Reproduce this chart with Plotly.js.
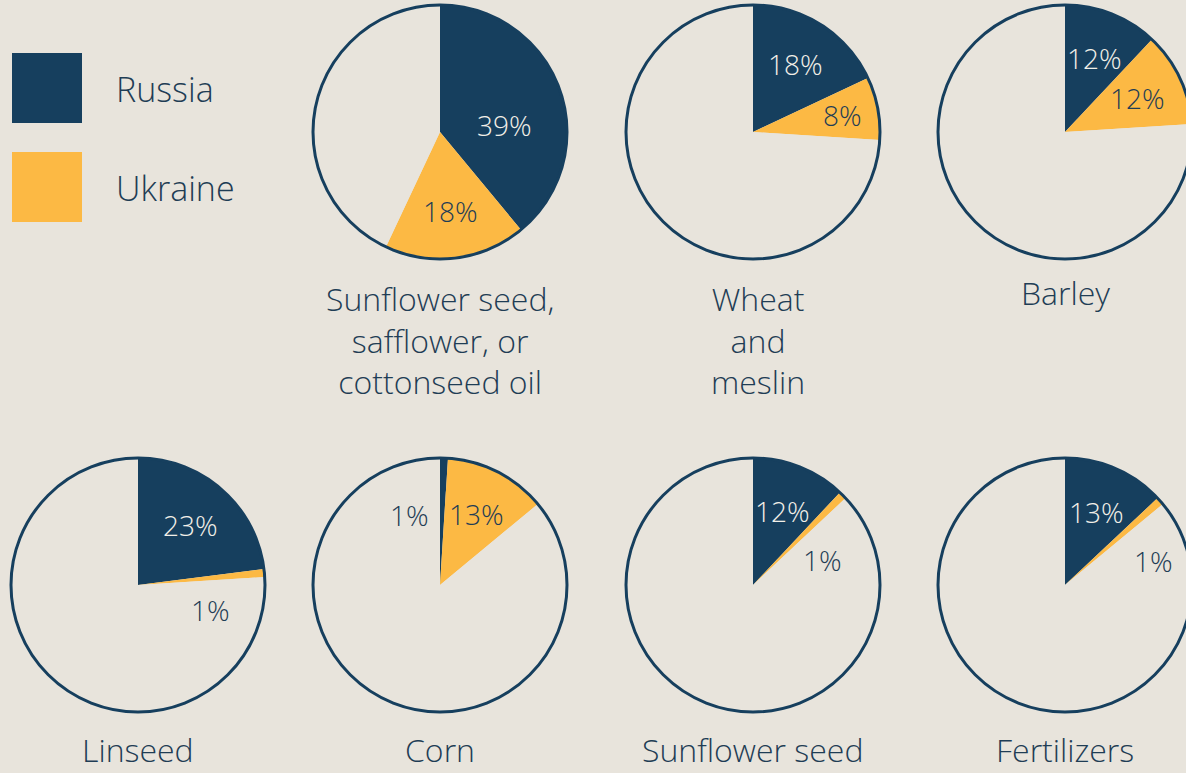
<!DOCTYPE html>
<html>
<head>
<meta charset="utf-8">
<script src="https://cdn.plot.ly/plotly-3.0.1.min.js"></script>
<style>
html,body{margin:0;padding:0;overflow:hidden;background:#e8e4dc;}
#chart{position:absolute;left:0;top:0;}
</style>
</head>
<body>
<div id="chart"></div>
<script>
// ---- data ----
const categories = ["Sunflower seed,<br>safflower, or<br>cottonseed oil", "Wheat<br>and<br>meslin", "Barley", "Linseed", "Corn", "Sunflower seed", "Fertilizers"];
const russia  = [39, 18, 12, 23, 1, 12, 13];
const ukraine = [18,  8, 12,  1, 13, 1,  1];
const seriesNames = ["Russia", "Ukraine"];

// ---- style / layout ----
const W = 1200, H = 773, R = 127;
const BG = "#e8e4dc", NAVY = "#163f5e", YELLOW = "#fcb944", TEXT = "#1f3d55";
const FONT = "'Open Sans', Lato, sans-serif";
const centers = [[440,132],[753,132],[1065,132],[138,585],[440,585],[753,585],[1065,585]];
const labelGap = [16,16,10,14,14,14,14];
// label placement overrides: key "pie-slice" -> [angleDeg, radiusFraction]
const labelOverride = {"0-0":[84,0.51], "1-1":[79,0.72], "3-1":[109,0.6], "4-0":[336,0.6], "5-1":[70,0.58], "6-1":[75,0.72]};

const px = x => x / W;
const py = y => 1 - y / H;

const traces = [];
const annotations = [];
const shapes = [];

categories.forEach((cat, i) => {
  const [cx, cy] = centers[i];
  const domain = {x: [px(cx - R), px(cx + R)], y: [py(cy + R), py(cy - R)]};
  const vals = [russia[i], ukraine[i], 100 - russia[i] - ukraine[i]];
  traces.push({
    type: "pie", values: vals, labels: ["Russia","Ukraine","Other"],
    domain: domain, sort: false, direction: "clockwise", rotation: 0,
    marker: {colors: [NAVY, YELLOW, BG], line: {width: 0}},
    textinfo: "none", hoverinfo: "none", showlegend: false
  });
  traces.push({
    type: "pie", values: [1], labels: ["outline"],
    domain: domain, sort: false,
    marker: {colors: ["rgba(0,0,0,0)"], line: {color: NAVY, width: 3}},
    textinfo: "none", hoverinfo: "none", showlegend: false
  });
  // percentage labels
  let start = 0;
  [russia[i], ukraine[i]].forEach((v, s) => {
    const mid = (start + v / 2) * 3.6;
    start += v;
    let ang = mid, rf = 0.63;
    const ov = labelOverride[i + "-" + s];
    if (ov) { ang = ov[0]; rf = ov[1]; }
    const a = ang * Math.PI / 180;
    const lx = cx + rf * R * Math.sin(a);
    const ly = cy - rf * R * Math.cos(a);
    const inside = !ov || (ov && (i === 0 || i === 1));
    const color = (s === 0 && inside) ? "#f2efe8" : TEXT;
    annotations.push({
      xref: "paper", yref: "paper", x: px(lx), y: py(ly),
      xanchor: "center", yanchor: "middle", showarrow: false,
      text: v + "%", font: {family: FONT, size: 28, weight: 300, color: color}
    });
  });
  // category label
  annotations.push({
    xref: "paper", yref: "paper", x: px(cx + (i === 1 ? 5 : 0)), y: py(cy + R + labelGap[i]),
    xanchor: "center", yanchor: "top", showarrow: false, align: "center",
    text: cat, font: {family: FONT, size: 32, weight: 300, color: TEXT}
  });
});

// legend
const legendColors = [NAVY, YELLOW];
const legendTops = [53, 152];
seriesNames.forEach((name, k) => {
  shapes.push({type: "rect", xref: "paper", yref: "paper",
    x0: px(12), x1: px(82), y0: py(legendTops[k] + 70), y1: py(legendTops[k]),
    fillcolor: legendColors[k], line: {width: 0}});
  annotations.push({xref: "paper", yref: "paper", x: px(114), y: py(legendTops[k] + 36),
    xanchor: "left", yanchor: "middle", showarrow: false,
    text: name, font: {family: FONT, size: 34, weight: 300, color: TEXT}});
});

Plotly.newPlot("chart", traces, {
  width: W, height: H, margin: {l: 0, r: 0, t: 0, b: 0},
  paper_bgcolor: BG, plot_bgcolor: BG, showlegend: false,
  annotations: annotations, shapes: shapes
}, {staticPlot: true});
</script>
</body>
</html>
